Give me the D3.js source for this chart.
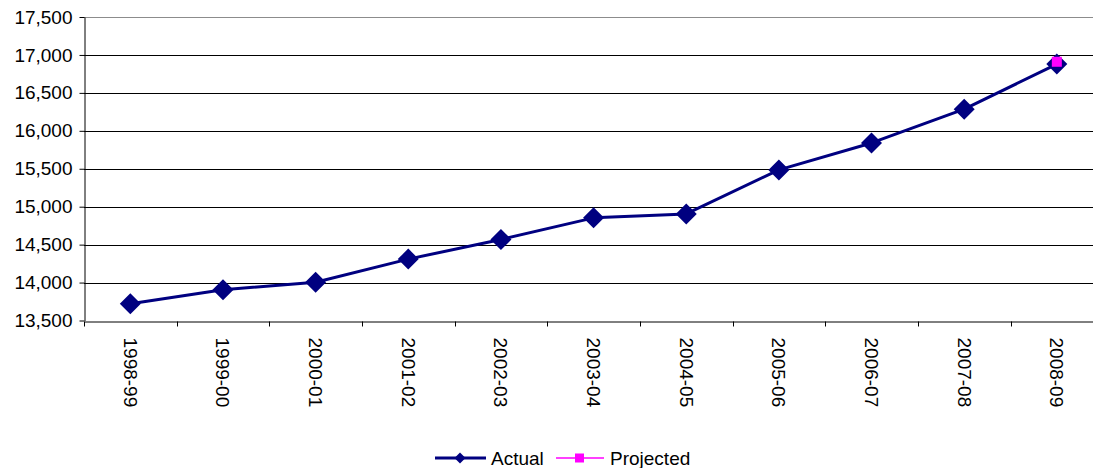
<!DOCTYPE html>
<html><head><meta charset="utf-8">
<script src="https://cdn.jsdelivr.net/npm/d3@7"></script>
<style>
html,body{margin:0;padding:0;background:#fff;overflow:hidden}
text{font-family:"Liberation Sans",Arial,sans-serif;fill:#000}
</style></head>
<body>
<svg id="c" width="1093" height="468"></svg>
<script>
const categories = ["1998-99","1999-00","2000-01","2001-02","2002-03","2003-04","2004-05","2005-06","2006-07","2007-08","2008-09"];
const actual = [13720,13905,14005,14309,14568,14853,14905,15485,15840,16285,16880];
const projected = [null,null,null,null,null,null,null,null,null,null,16910];
const yTicks = [13500,14000,14500,15000,15500,16000,16500,17000,17500];
const seriesNames = ["Actual","Projected"];

(function(){
const svg = d3.select("#c");
const pL = 84, pT = 17, pB = 320.5, step = 92.65;
const pR = pL + step * categories.length;
const x = d3.scaleBand().domain(categories).range([pL, pR]).padding(0);
const y = d3.scaleLinear().domain([13500,17500]).range([pB, pT]);
const fmt = d3.format(",");

// gridlines
svg.append("g").selectAll("line").data(yTicks.slice(1)).join("line")
  .attr("x1", pL).attr("x2", pR)
  .attr("y1", d => Math.round(y(d)) + 0.5).attr("y2", d => Math.round(y(d)) + 0.5)
  .attr("stroke", d => d === 17500 ? "#8c8c8c" : "#000").attr("stroke-width", 1);

// y axis
const yAxis = svg.append("g").attr("transform", `translate(${pL + 0.5},0)`)
  .call(d3.axisLeft(y).tickValues(yTicks).tickFormat(fmt).tickSize(5).tickPadding(7).tickSizeOuter(0));
yAxis.select(".domain").attr("stroke", "#000");
yAxis.selectAll(".tick line").attr("stroke", "#000");
yAxis.selectAll("text").style("font-size", "19px").style("font-family", '"Liberation Sans",Arial,sans-serif').attr("fill", "#000");

// x axis
const xAxis = svg.append("g").attr("transform", `translate(0,${Math.round(pB) + 0.5})`)
  .call(d3.axisBottom(x).tickValues([]).tickSizeOuter(0));
xAxis.select(".domain").attr("stroke", "#000");
const tickPos = d3.range(categories.length + 1).map(i => pL + i * step);
xAxis.selectAll(".tk").data(tickPos).join("line").attr("class", "tk")
  .attr("x1", d => Math.round(d) + 0.5).attr("x2", d => Math.round(d) + 0.5)
  .attr("y1", 0).attr("y2", 5).attr("stroke", "#000");
xAxis.selectAll(".lbl").data(categories).join("text").attr("class", "lbl")
  .attr("transform", d => `translate(${x(d) + x.bandwidth() / 2},16) rotate(90)`)
  .attr("dy", "0.35em").attr("text-anchor", "start")
  .style("font-size", "19px").text(d => d);

// actual line
const line = d3.line().defined(d => d != null)
  .x((d,i) => x(categories[i]) + x.bandwidth() / 2).y(d => y(d));
svg.append("path").datum(actual).attr("d", line)
  .attr("fill", "none").attr("stroke", "#000080").attr("stroke-width", 3).attr("stroke-linejoin", "round");

const diamond = s => `M0,${-s}L${s},0L0,${s}L${-s},0Z`;
svg.append("g").selectAll("path").data(actual).join("path")
  .attr("transform", (d,i) => `translate(${x(categories[i]) + x.bandwidth() / 2},${y(d)})`)
  .attr("d", diamond(10.5)).attr("fill", "#000080");

// projected
svg.append("path").datum(projected).attr("d", line)
  .attr("fill", "none").attr("stroke", "#ff00ff").attr("stroke-width", 1.5);
svg.append("g").selectAll("rect").data(projected.map((v,i) => ({v, c: categories[i]})).filter(d => d.v != null)).join("rect")
  .attr("x", d => x(d.c) + x.bandwidth() / 2 - 5).attr("y", d => y(d.v) - 5)
  .attr("width", 10).attr("height", 10).attr("fill", "#ff00ff");

// legend
const lg = svg.append("g").attr("transform", "translate(0,458)");
lg.append("line").attr("x1", 435).attr("x2", 486).attr("y1", 0).attr("y2", 0).attr("stroke", "#000080").attr("stroke-width", 3);
lg.append("path").attr("transform", "translate(460,0)").attr("d", diamond(5.5)).attr("fill", "#000080");
lg.append("text").attr("x", 491).attr("y", 0).attr("dy", "0.35em").style("font-size", "19px").text(seriesNames[0]);
lg.append("line").attr("x1", 556).attr("x2", 604).attr("y1", 0).attr("y2", 0).attr("stroke", "#ff00ff").attr("stroke-width", 1.5);
lg.append("rect").attr("x", 575).attr("y", -4.5).attr("width", 9).attr("height", 9).attr("fill", "#ff00ff");
lg.append("text").attr("x", 610).attr("y", 0).attr("dy", "0.35em").style("font-size", "19px").text(seriesNames[1]);
})();
</script>
</body></html>
